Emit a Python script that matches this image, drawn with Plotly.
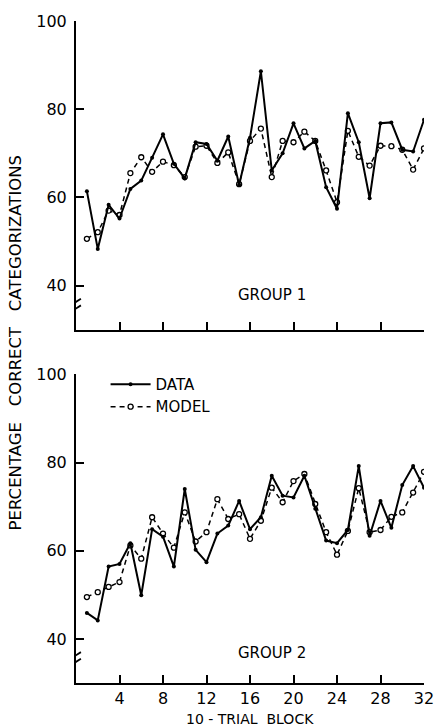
import plotly.graph_objects as go

blocks = list(range(1, 33))

data_g1 = [61.4, 48.3, 58.3, 55.2, 61.9, 63.8, 69.0, 74.3, 67.6, 64.3, 72.5, 72.1, 68.3, 73.8, 62.8, 73.5,
           88.6, 66.1, 70.0, 76.8, 71.1, 72.8, 62.3, 57.4, 79.1, 72.5, 59.8, 76.8, 77.0, 70.8, 70.4, 77.6]
model_g1 = [50.6, 52.1, 57.0, 56.0, 65.5, 69.1, 65.8, 68.1, 67.3, 64.6, 71.5, 71.7, 67.8, 70.2, 63.0, 72.8,
            75.6, 64.6, 72.8, 72.5, 74.9, 72.8, 66.1, 58.9, 75.1, 69.2, 67.2, 71.7, 71.6, 70.8, 66.3, 71.1]

data_g2 = [45.9, 44.2, 56.4, 57.0, 61.7, 49.9, 64.9, 63.2, 56.4, 74.0, 60.2, 57.4, 63.9, 65.7, 71.3, 64.9,
           67.6, 77.0, 72.5, 72.1, 77.0, 69.5, 62.3, 61.7, 64.7, 79.2, 63.4, 71.3, 65.2, 74.9, 79.2, 74.3]
model_g2 = [49.5, 50.6, 51.8, 52.9, 61.2, 58.2, 67.6, 63.9, 60.7, 68.7, 62.1, 64.2, 71.7, 67.2, 68.3, 62.7,
            66.8, 74.3, 71.0, 75.8, 77.4, 70.6, 64.2, 59.1, 64.5, 74.2, 64.2, 64.7, 67.7, 68.7, 73.2, 77.9]

x_ticks = [4, 8, 12, 16, 20, 24, 28, 32]
y_ticks = [40, 60, 80, 100]
group_labels = ["GROUP 1", "GROUP 2"]
y_title = "PERCENTAGE&nbsp;&nbsp;&nbsp;CORRECT&nbsp;&nbsp;&nbsp;CATEGORIZATIONS"
x_title = "10 - TRIAL&nbsp;&nbsp;BLOCK"

FONT = "DejaVu Sans"
fig = go.Figure()

panels = [("x", "y", data_g1, model_g1), ("x2", "y2", data_g2, model_g2)]
for i, (xa, ya, d, m) in enumerate(panels):
    fig.add_trace(go.Scatter(
        x=blocks, y=m, xaxis=xa, yaxis=ya, mode="lines+markers", name="MODEL",
        showlegend=(i == 1), legendrank=2,
        line=dict(color="black", width=1.5, dash="5px,4px"),
        marker=dict(symbol="circle", size=5, color="white", line=dict(color="black", width=1.3)),
    ))
    fig.add_trace(go.Scatter(
        x=blocks, y=d, xaxis=xa, yaxis=ya, mode="lines+markers", name="DATA",
        showlegend=(i == 1), legendrank=1,
        line=dict(color="black", width=2),
        marker=dict(symbol="circle", size=4, color="black"),
    ))

axis_common = dict(showgrid=False, zeroline=False, showline=True, linecolor="black", linewidth=2,
                   ticks="inside", ticklen=8, tickwidth=2, tickcolor="black",
                   tickfont=dict(family=FONT, size=16, color="black"))

fig.update_layout(
    width=446, height=728,
    margin=dict(l=76, r=12, t=16, b=45),
    paper_bgcolor="white", plot_bgcolor="white",
    xaxis=dict(domain=[0, 1], range=[0, 32], tickvals=x_ticks, showticklabels=False,
               anchor="y", **axis_common),
    yaxis=dict(domain=[0.5338, 1], range=[30, 100], tickvals=y_ticks, anchor="x",
               ticklabelstandoff=4, **axis_common),
    xaxis2=dict(domain=[0, 1], range=[0, 32], tickvals=x_ticks, anchor="y2", **axis_common),
    yaxis2=dict(domain=[0, 0.4662], range=[30, 100], tickvals=y_ticks, anchor="x2",
                ticklabelstandoff=4, **axis_common),
    legend=dict(x=0.085, y=0.476, xanchor="left", yanchor="top", bgcolor="rgba(0,0,0,0)",
                font=dict(family=FONT, size=15, color="black"), tracegroupgap=0,
                itemwidth=40),
    showlegend=True,
)

# axis break marks
for ya in ["y", "y2"]:
    for yy in [36.3, 34.8]:
        fig.add_shape(type="line", xref="x" if ya == "y" else "x2", yref=ya,
                      x0=-0.45, x1=0.45, y0=yy - 0.7, y1=yy + 0.7,
                      line=dict(color="black", width=1.8))

fig.add_annotation(text=group_labels[0], x=18, y=37.9, xref="x", yref="y", showarrow=False,
                   font=dict(family=FONT, size=15, color="black"))
fig.add_annotation(text=group_labels[1], x=18, y=36.8, xref="x2", yref="y2", showarrow=False,
                   font=dict(family=FONT, size=15, color="black"))

fig.add_annotation(text=y_title, textangle=-90, x=0, xref="paper", xanchor="center", xshift=-61,
                   y=0.513, yref="paper", yanchor="middle", showarrow=False,
                   font=dict(family=FONT, size=16.5, color="black"))
fig.add_annotation(text=x_title, x=16, xref="x2", y=0, yref="paper", yanchor="middle", yshift=-36,
                   showarrow=False, font=dict(family=FONT, size=14, color="black"))

fig.write_html("out.html", config={"displayModeBar": False},
               post_script="document.body.style.margin='0px';document.body.style.padding='0px';")
